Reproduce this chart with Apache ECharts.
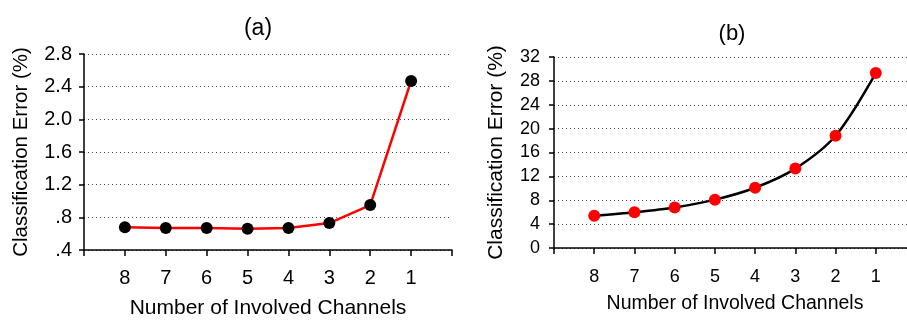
<!DOCTYPE html>
<html><head><meta charset="utf-8">
<script src="https://cdn.jsdelivr.net/npm/echarts@6/dist/echarts.min.js"></script>
<style>html,body{margin:0;padding:0;background:#fff}#c{width:907px;height:320px}</style>
</head><body><div id="c"></div>
<script>
const categories = ['', '8', '7', '6', '5', '4', '3', '2', '1', ''];
const errorA = [null, 0.68, 0.67, 0.67, 0.66, 0.67, 0.73, 0.95, 2.47, null];
const errorB = [null, 5.4, 6.0, 6.8, 8.1, 10.1, 13.3, 18.8, 29.3, null];
const titles = ['(a)', '(b)'];
const yNames = ['Classification Error (%)', 'Classification Error (%)'];
const xName = 'Number of Involved Channels';

const FONT = '"Liberation Sans", Arial, Helvetica, sans-serif';
const chart = echarts.init(document.getElementById('c'), null, {renderer: 'canvas'});
function xAxis(gi, fs, nfs, gap, margin) {
  return {
    type: 'category', gridIndex: gi, data: categories, boundaryGap: false,
    name: xName, nameLocation: 'middle', nameGap: gap, nameMoveOverlap: false,
    nameTextStyle: {fontFamily: FONT, fontSize: nfs, color: '#000'},
    axisLine: {show: true, lineStyle: {color: '#000', width: 1.5}},
    axisTick: {show: true, inside: false, length: 6, interval: 0, lineStyle: {color: '#000', width: 1.5}},
    axisLabel: {interval: 0, margin: margin, fontFamily: FONT, fontSize: fs, color: '#000'},
    splitLine: {show: false}
  };
}
function yAxis(gi, min, max, interval, fmt, fs, nfs, nameGap, margin) {
  return {
    type: 'value', gridIndex: gi, min: min, max: max, interval: interval,
    name: yNames[gi], nameLocation: 'middle', nameGap: nameGap, nameMoveOverlap: false,
    nameTextStyle: {fontFamily: FONT, fontSize: nfs, color: '#000'},
    axisLine: {show: true, lineStyle: {color: '#000', width: 1.5}},
    axisTick: {show: true, inside: false, length: 5, lineStyle: {color: '#000', width: 1.5}},
    axisLabel: {formatter: fmt, margin: margin, fontFamily: FONT, fontSize: fs, color: '#000'},
    splitLine: {show: true, lineStyle: {color: '#444', width: 1, type: [1, 3]}}
  };
}
chart.setOption({
  animation: false,
  backgroundColor: '#fff',
  title: [
    {text: titles[0], left: 253, top: 12, textAlign: 'center', textStyle: {fontFamily: FONT, fontSize: 23, fontWeight: 'normal', color: '#000'}},
    {text: titles[1], left: 727, top: 18, textAlign: 'center', textStyle: {fontFamily: FONT, fontSize: 22, fontWeight: 'normal', color: '#000'}}
  ],
  grid: [
    {left: 84, top: 54, width: 368, height: 196, containLabel: false, outerBoundsMode: 'none'},
    {left: 554, top: 57, width: 362, height: 191, containLabel: false, outerBoundsMode: 'none'}
  ],
  xAxis: [xAxis(0, 20, 21, 48, 18), xAxis(1, 18, 19.5, 46, 20)],
  yAxis: [
    yAxis(0, 0.4, 2.8, 0.4, v => v.toFixed(1).replace(/^0/, ''), 20, 20.5, 52, 12),
    yAxis(1, 0, 32, 4, v => String(v), 18, 21, 47, 14)
  ],
  series: [
    {type: 'line', xAxisIndex: 0, yAxisIndex: 0, data: errorA,
     symbol: 'circle', symbolSize: 12, showAllSymbol: true,
     lineStyle: {color: '#ff0000', width: 2.5}, itemStyle: {color: '#000'}, z: 3},
    {type: 'line', xAxisIndex: 1, yAxisIndex: 1, data: errorB, smooth: 0.3,
     symbol: 'circle', symbolSize: 12, showAllSymbol: true,
     lineStyle: {color: '#000', width: 2.5}, itemStyle: {color: '#ff0000'}, z: 3}
  ]
});
</script></body></html>
